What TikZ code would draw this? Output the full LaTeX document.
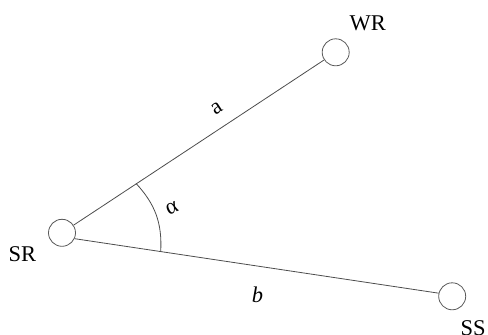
\documentclass[tikz,border=0pt]{standalone}
\usepackage{fontspec}
\setmainfont{Liberation Serif}
\begin{document}
\begin{tikzpicture}[x=1pt,y=-1pt,
  site/.style={circle,draw=black!65,line width=0.8pt,minimum size=27pt,inner sep=0pt,fill=white},
  edge/.style={draw=black!70,line width=0.8pt},
  lbl/.style={inner sep=0pt,font=\fontsize{22.5}{27}\selectfont}]
\useasboundingbox (0,0) rectangle (488,335);
\node[site] (SR) at (62,232.8) {};
\node[site] (WR) at (335.7,52.3) {};
\node[site] (SS) at (452.2,296.3) {};
\draw[edge] (SR) -- (WR);
\draw[edge] (SR.-25) -- (SS.167);
\coordinate (A1) at (136,183.4);
\coordinate (A2) at (160.7,251.8);
\draw[edge] (A1) to[bend left=23] (A2);
\node[lbl,anchor=base west] (tSR) at (8.5,261.7) {SR};
\node[lbl,anchor=base west] (tWR) at (349.5,30) {WR};
\node[lbl,anchor=base west] (tSS) at (460.5,335.5) {SS};
\node[lbl,rotate=33] (ta) at (216.7,108.8) {a};
\node[lbl,rotate=25] (tal) at (172,208.3) {α};
\node[lbl] (tb) at (257.5,295) {\textit{b}};
\end{tikzpicture}
\end{document}
